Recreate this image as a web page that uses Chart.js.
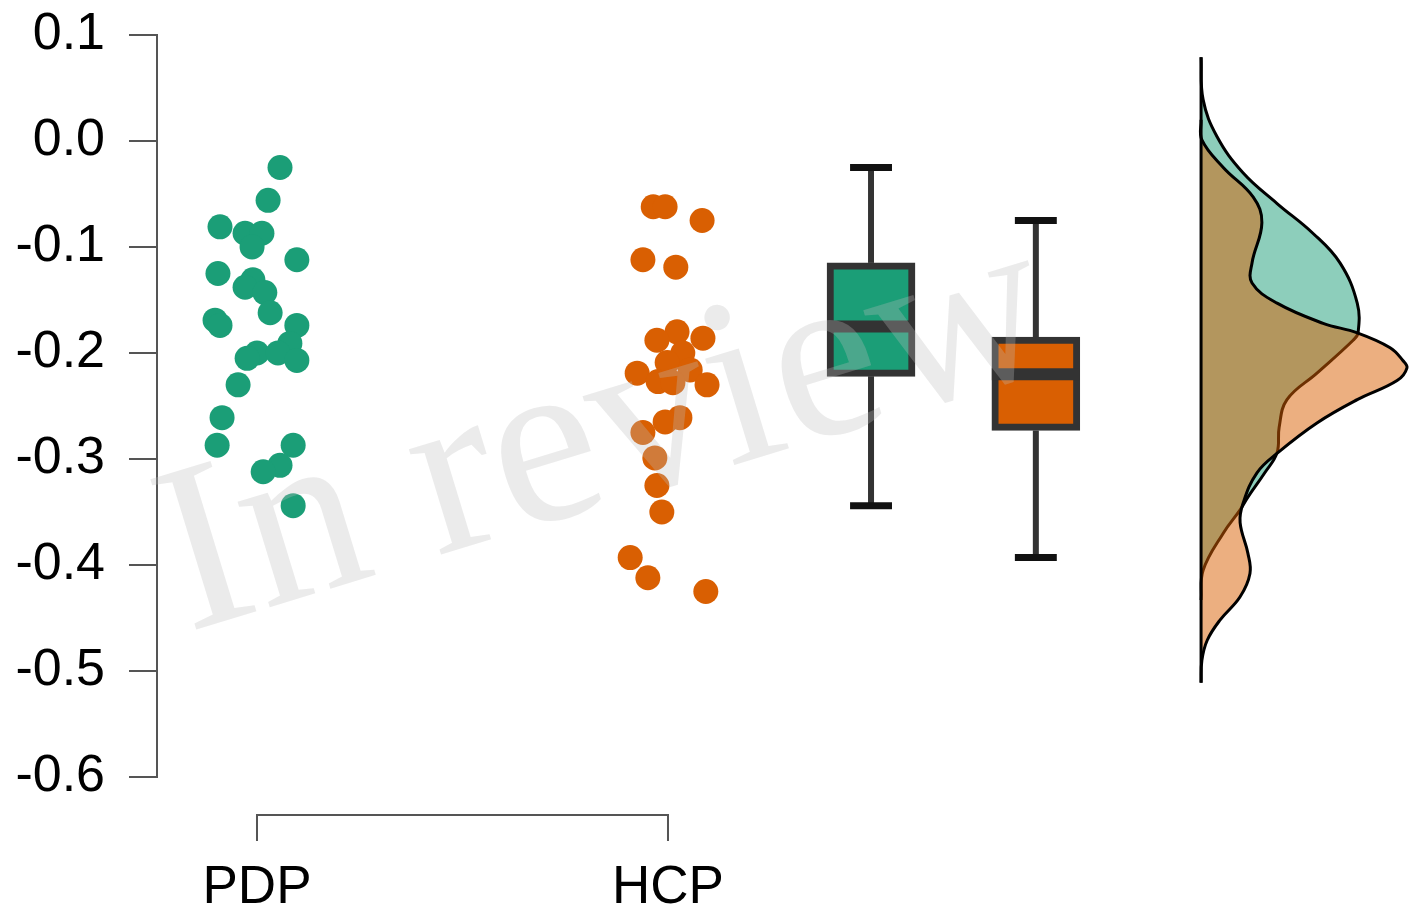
<!DOCTYPE html>
<html>
<head>
<meta charset="utf-8">
<script src="https://cdn.jsdelivr.net/npm/chart.js@4.4.0/dist/chart.umd.min.js"></script>
<style>
  html, body { margin: 0; padding: 0; background: #fff; }
  #wrap { width: 1417px; height: 915px; }
</style>
</head>
<body>
<div id="wrap"><canvas id="rain"></canvas></div>
<script>
// groups and y ticks
const groups = ["PDP", "HCP"];
const yTicks = [0.1, 0.0, -0.1, -0.2, -0.3, -0.4, -0.5, -0.6];

// raw points (value) and horizontal jitter (in group units)
const pdpValues = [-0.025, -0.056, -0.081, -0.087, -0.087, -0.100, -0.112, -0.125, -0.131, -0.138,
  -0.143, -0.162, -0.169, -0.174, -0.174, -0.191, -0.200, -0.200, -0.205, -0.207,
  -0.230, -0.261, -0.287, -0.287, -0.306, -0.312, -0.344];
const pdpJitter = [0.056, 0.027, -0.090, -0.029, 0.012, -0.012, 0.097, -0.095, -0.010, -0.029,
  0.019, 0.032, -0.102, -0.090, 0.097, 0.080, 0.000, 0.051, -0.024, 0.097,
  -0.046, -0.085, -0.097, 0.088, 0.056, 0.015, 0.088];

const hcpValues = [-0.062, -0.062, -0.075, -0.112, -0.119, -0.180, -0.186, -0.188, -0.200, -0.209,
  -0.216, -0.219, -0.227, -0.228, -0.230, -0.261, -0.265, -0.275, -0.299, -0.325,
  -0.350, -0.393, -0.412, -0.425];
const hcpJitter = [-0.036, -0.007, 0.083, -0.061, 0.019, 0.022, 0.085, -0.027, 0.036, -0.002,
  0.054, -0.075, -0.024, 0.012, 0.095, 0.029, -0.007, -0.061, -0.032, -0.027,
  -0.015, -0.092, -0.049, 0.092];

// box stats: min, q1, median, q3, max
const pdpBox = [-0.344, -0.222, -0.175, -0.115, -0.025];
const hcpBox = [-0.393, -0.273, -0.220, -0.185, -0.075];

// density curves (value, density)
const pdpDensY = [0.079, 0.039, 0.004, -0.030, -0.059, -0.087, -0.115, -0.153, -0.181, -0.188,
  -0.219, -0.244, -0.270, -0.294, -0.313, -0.336, -0.348, -0.370, -0.405, -0.433];
const pdpDens = [0, 0.05, 0.39, 1.02, 1.85, 2.72, 3.38, 3.80, 3.82, 3.70,
  2.82, 2.09, 1.90, 1.85, 1.55, 1.14, 0.95, 0.54, 0.05, 0];
const hcpDensY = [0.020, 0.001, -0.025, -0.053, -0.077, -0.115, -0.134, -0.153, -0.172, -0.181,
  -0.195, -0.207, -0.214, -0.226, -0.244, -0.266, -0.294, -0.313, -0.342, -0.360,
  -0.389, -0.408, -0.430, -0.452, -0.471, -0.490, -0.511];
const hcpDens = [0, 0.02, 0.54, 1.27, 1.48, 1.24, 1.24, 1.85, 2.97, 3.80,
  4.60, 4.91, 5.01, 4.77, 3.80, 2.82, 1.87, 1.36, 1.02, 0.95,
  1.14, 1.19, 0.95, 0.46, 0.15, 0.02, 0];

// layout on the x axis (group units)
const boxPos = [2.494, 2.895];
const densBase = 3.297;
const densScale = 0.1;
const capHalf = 0.051;
const boxHalf = 0.107;

const green = "#1B9E77";
const orange = "#D95F02";
const font = '"Liberation Sans", Arial, sans-serif';

function pts(values, jitter, g) {
  return values.map((v, i) => ({ x: g + jitter[i], y: v }));
}
function densPts(ys, ds) {
  return ys.map((v, i) => ({ x: densBase + ds[i] * densScale, y: v }));
}
function seg(x1, y1, x2, y2, color, w, order) {
  return {
    type: "scatter", data: [{ x: x1, y: y1 }, { x: x2, y: y2 }],
    showLine: true, borderColor: color, borderWidth: w, pointRadius: 0,
    borderCapStyle: "butt", order: order
  };
}

let datasets = [];

// density
datasets.push({
  type: "scatter", data: densPts(pdpDensY, pdpDens), showLine: true, fill: "shape",
  backgroundColor: "rgba(27,158,119,0.5)", borderColor: "#000", borderWidth: 3,
  tension: 0.4, pointRadius: 0, order: 20
});
datasets.push({
  type: "scatter", data: densPts(hcpDensY, hcpDens), showLine: true, fill: "shape",
  backgroundColor: "rgba(217,95,2,0.5)", borderColor: "#000", borderWidth: 3,
  tension: 0.4, pointRadius: 0, order: 19
});
datasets.push(seg(densBase, Math.max(pdpDensY[0], hcpDensY[0]), densBase,
  Math.min(pdpDensY[pdpDensY.length - 1], hcpDensY[hcpDensY.length - 1]), "#000", 3, 18));

// boxes
[pdpBox, hcpBox].forEach((b, i) => {
  const bx = boxPos[i];
  datasets.push(seg(bx, b[3], bx, b[4], "#333", 6, 12));
  datasets.push(seg(bx, b[1], bx, b[0], "#333", 6, 12));
  datasets.push(seg(bx - capHalf, b[4], bx + capHalf, b[4], "#111", 7, 11));
  datasets.push(seg(bx - capHalf, b[0], bx + capHalf, b[0], "#111", 7, 11));
  datasets.push(seg(bx - boxHalf, b[2], bx + boxHalf, b[2], "#333", 12, 5));
});
datasets.push({
  type: "bar",
  data: [{ x: boxPos[0], y: [pdpBox[1], pdpBox[3]] }, { x: boxPos[1], y: [hcpBox[1], hcpBox[3]] }],
  backgroundColor: [green, orange], borderColor: "#333", borderWidth: 7,
  borderSkipped: false, barThickness: 88, grouped: false, order: 8
});

// raw points
datasets.push({
  type: "scatter", data: pts(pdpValues, pdpJitter, 1),
  backgroundColor: green, borderWidth: 0, pointRadius: 12.5, order: 1
});
datasets.push({
  type: "scatter", data: pts(hcpValues, hcpJitter, 2),
  backgroundColor: orange, borderWidth: 0, pointRadius: 12.5, order: 1
});

// watermark + bottom bracket axis
const extras = {
  id: "extras",
  afterDatasetsDraw(chart) {
    const ctx = chart.ctx;
    ctx.save();
    ctx.translate(188, 632);
    ctx.rotate(-17 * Math.PI / 180);
    ctx.font = '240px "Liberation Serif", "Times New Roman", serif';
    ctx.fillStyle = "rgba(190,190,190,0.3)";
    ctx.textBaseline = "alphabetic";
    ctx.fillText("In review", 0, 0);
    ctx.restore();
  },
  afterDraw(chart) {
    const { ctx, chartArea, scales } = chart;
    const x = scales.x;
    const yLine = chartArea.bottom + 38;
    const x1 = x.getPixelForValue(1), x2 = x.getPixelForValue(groups.length);
    ctx.save();
    ctx.strokeStyle = "#555";
    ctx.lineWidth = 2;
    ctx.beginPath();
    ctx.moveTo(x1, yLine + 26);
    ctx.lineTo(x1, yLine);
    ctx.lineTo(x2, yLine);
    ctx.lineTo(x2, yLine + 26);
    ctx.stroke();
    ctx.fillStyle = "#000";
    ctx.font = "53px " + font;
    ctx.textAlign = "center";
    ctx.textBaseline = "alphabetic";
    groups.forEach((g, i) => ctx.fillText(g, x.getPixelForValue(i + 1), yLine + 88));
    ctx.restore();
  }
};

new Chart(document.getElementById("rain"), {
  type: "scatter",
  data: { datasets: datasets },
  plugins: [extras],
  options: {
    responsive: true,
    maintainAspectRatio: false,
    animation: false,
    events: [],
    layout: { autoPadding: false, padding: { left: 0, right: 0, top: 35, bottom: 138 } },
    plugins: { legend: { display: false }, tooltip: { enabled: false } },
    scales: {
      x: { type: "linear", display: false, offset: false, min: 0.7567, max: 3.8224 },
      y: {
        type: "linear", min: -0.6, max: 0.1,
        afterBuildTicks: s => { s.ticks = yTicks.map(v => ({ value: v })); },
        afterFit: s => { s.width = 157; s.paddingTop = 0; s.paddingBottom = 0; },
        grid: { drawOnChartArea: false, tickLength: 28, color: "#555", lineWidth: 2 },
        border: { display: true, color: "#555", width: 2 },
        ticks: {
          padding: 24, color: "#000", font: { family: font, size: 52 },
          callback: v => v.toFixed(1).replace("-0.0", "0.0")
        }
      }
    }
  }
});
</script>
</body>
</html>
